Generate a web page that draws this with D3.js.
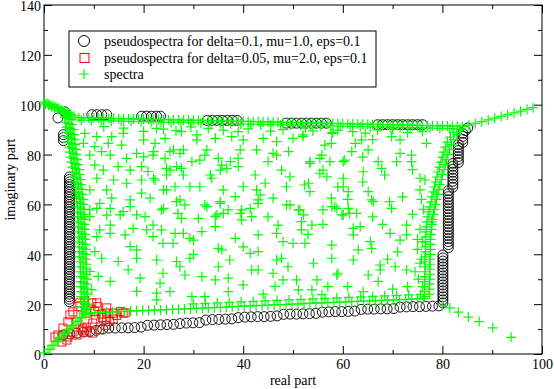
<!DOCTYPE html>
<html><head><meta charset="utf-8">
<script src="https://cdn.jsdelivr.net/npm/d3@7"></script>
<style>body{margin:0;background:#fff}svg{display:block}text{font-family:"Liberation Serif","DejaVu Serif",serif}</style>
</head><body><svg id="c" width="554" height="389"></svg>
<script>
// ---------- axis ticks ----------
const xMajor = [0, 20, 40, 60, 80, 100];
const xMinor = [10, 30, 50, 70, 90];
const yMajor = [0, 20, 40, 60, 80, 100, 120, 140];
const yMinor = [10, 30, 50, 70, 90, 110, 130];
const seriesNames = ["pseudospectra for delta=0.1, mu=1.0, eps=0.1", "pseudospectra for delta=0.05, mu=2.0, eps=0.1", "spectra"];

// ---------- series 1: circles ----------
const circlesTop = [[2.8,94.7],[4.2,97.1],[3.9,88],[3.9,86.8],[3.9,85.6],[9.6,96],[10.6,96],[11.6,96],[12.6,96],
[19.6,95.4],[20.6,95.4],[21.6,95.4],[22.6,95.4],[23.4,95.4],[32.8,93.7],[33.8,93.7],[34.8,93.7],[35.8,93.7],[36.8,93.7],[37.8,93.7],[38.8,93.7],
[48.7,92.6],[49.7,92.6],[50.7,92.6],[51.7,92.6],[52.7,92.6],[53.7,92.6],[54.7,92.6],[55.7,92.6],[56.7,92.6],
[67,92],[68,92],[69,92],[70,92],[71,92],[72,92],[73,92],[74,92],[75,92],[76,92],[85.1,90.7],[84.6,89.6]];
const circlesLeft = [[5.1,21],[5.1,22],[5.1,23],[5.1,24],[5.1,25],[5.1,26],[5.1,27],[5.1,28],[5.1,29],[5.1,30],[5.1,31],[5.1,32],[5.1,33],[5.1,34],[5.1,35],[5.1,36],[5.1,37],[5.1,38],[5.1,39],[5.1,40],[5.1,41],[5.1,42],[5.1,43],[5.1,44],[5.1,45],[5.1,46],[5.1,47],[5.1,48],[5.1,49],[5.1,50],[5.1,51],[5.1,52],[5.1,53],[5.1,54],[5.1,55],[5.1,56],[5.1,57],[5.1,58],[5.1,59],[5.1,60],[5.1,61],[5.1,62],[5.1,63],[5.1,64],[5.1,65],[5.1,66],[5.1,67],[5.1,68],[5.1,69],[5.1,70],[5.1,71]];
const circlesRight = [[84.1,88.5],[84.1,87.3],[84.1,86.1],[84.1,84.9],
[83.2,84],[83.2,82.8],[83.2,81.6],[83.2,80.4],[83.2,79.2],[83.2,78],[83.2,76.8],
[82.1,76.5],[82.1,75.3],[82.1,74.1],[82.1,72.9],[82.1,71.7],[82.1,70.5],[82.1,69.3],[82.1,68.1],[82.1,66.9],
[81.2,65.5],[81.2,64.3],[81.2,63.1],[81.2,61.9],[81.2,60.7],[81.2,59.5],[81.2,58.3],[81.2,57.1],[81.2,55.9],[81.2,54.7],[81.2,53.5],[81.2,52.3],[81.2,51.1],[81.2,49.9],[81.2,48.7],[81.2,47.5],[81.2,46.3],[81.2,45.1],[81.2,43.9],[81.2,42.7],
[80.1,39.7],[80.1,38.5],[80.1,37.3],[80.1,36.1],[80.1,34.9],[80.1,33.7],[80.1,32.5],[80.1,31.3],[80.1,30.1],[80.1,28.9],[80.1,27.7],[80.1,26.5],[80.1,25.3],[80.1,24.1],[80.1,22.9],[80.1,21.7],[80.1,20.5]];
const circlesBottom = [[3.8,7.6],[5.2,8],[6.6,8.4],[7.9,8.8],[9.2,9],[10.5,9.5],[11.8,10],[13,10.4],[14.3,10.4],[15.6,10.5],[16.9,10.5],[18.2,10.6],[19.5,10.8],
[20.8,11.5],[22.1,11.6],[23.4,11.7],[24.7,11.8],[26,11.9],[27.3,12.2],[28.6,12.4],[29.9,12.5],[31.2,12.6],[32.5,13.6],[33.8,13.8],[35.1,13.9],[36.4,14],[37.7,14.1],
[39,14.6],[40.3,14.8],[41.6,14.9],[42.9,15],[44.2,15],[45.5,15.1],[46.8,15.3],[48.1,15.9],[49.4,16],[50.7,16],[52,16.1],[53.3,16.2],[54.6,16.3],[55.9,16.8],[57.2,16.9],
[58.5,17],[59.8,17],[61.1,17.1],[62.4,17.2],[63.7,17.9],[65,18],[66.3,18],[67.6,18.1],[68.9,18.1],[70.2,18.2],[71.5,18.8],[72.8,18.9],[74.1,19],[75.4,19],[76.7,19.1],[78,19.2],[79.3,19.3]];

// ---------- series 2: squares ----------
const squares = [[2.2,6.8],[2.8,7.6],[3.6,4.8],[4.6,5.6],[3.8,10.4],[4.8,6.8],[4.8,12.9],[5.2,15.7],[5.8,16.9],[5.8,8.8],[6.6,7.6],[6.6,12.9],[6.8,19],[7.2,20.5],
[7.8,9.6],[7.8,10.4],[8.2,21.5],[8.6,8.8],[8.6,10.8],[8.6,16.4],[9.6,20.5],[9.8,8.4],[9.8,12.4],[10.6,20.5],[10.8,19],[11.2,9.8],[11.8,14.5],[12.4,11.5],
[12.6,13.7],[12.6,16.4],[12.6,18.5],[13.2,13],[13.9,16.4],[13.9,14],[14.6,15.5],[15.3,17],[15.9,16.4],[16.3,16.5],[10.4,14],[10.2,17],[9.4,18],[11.5,16]];

// ---------- series 3: spectra (pluses) ----------
const spectraDiag = [[0,101],[0.6,100.6],[1.2,100.1],[1.8,99.6],[2.4,99.1],[3,98.6],[3.6,98],[4.2,97.4],[4.8,96.8],[5.4,96.1],[6,95.5],
[0.3,100.2],[0.9,99.9],[1.5,99.3],[2.1,98.8],[2.7,98.3],[3.3,97.7],[3.9,97.1],[4.5,96.4],[5.1,95.8],
[0,0.5],[0.8,1.8],[1.6,3.4],[2.4,5],[3.2,6.6],[4,8.2],[4.8,9.8],[5.6,11.4],[6.4,13],[7.2,14.6],[8,16.2],
[1.2,1.9],[2,3.5],[2.8,5.1],[3.6,6.7],[4.4,8.3],[5.2,9.9],[6,11.5],[6.8,13.1],[7.6,14.7],[8.4,15.8]];
const spectraRise = [[84,91.2],[85.3,91.8],[86.6,92.5],[87.9,93.2],[89.2,93.9],[90.5,94.6],[91.8,95.3],[93.1,96],[94.4,96.7],[95.7,97.4],[97,98.1],[98.2,98.8]];
const spectraFall = [[80,19.5],[81.5,18.5],[83.2,16.8],[85.2,14.8],[87.4,13],[90.1,10.5],[93.8,6.7]];
const spectraTop = [[7,94.8],[8,94.7],[9,94.7],[10,94.7],[11,94.6],[12,94.6],[13,94.5],[14,94.5],[15,94.4],[16,94.4],[17,94.3],[18,94.3],[19,94.2],[20,94.2],[21,94.2],[22,94.1],[23,94.1],[24,94],[25,94],[26,93.9],[27,93.9],[28,93.8],[29,93.8],[30,93.8],[31,93.7],[32,93.7],[33,93.6],[34,93.6],[35,93.5],[36,93.5],[37,93.4],[38,93.4],[39,93.3],[40,93.3],[41,93.3],[42,93.2],[43,93.2],[44,93.1],[45,93.1],[46,93],[47,93],[48,92.9],[49,92.9],[50,92.9],[51,92.8],[52,92.8],[53,92.7],[54,92.7],[55,92.6],[56,92.6],[57,92.5],[58,92.5],[59,92.4],[60,92.4],[61,92.4],[62,92.3],[63,92.3],[64,92.2],[65,92.2],[66,92.1],[67,92.1],[68,92],[69,92],[70,91.9],[71,91.9],[72,91.9],[73,91.8],[74,91.8],[75,91.7],[76,91.7],[77,91.6],[78,91.6],[79,91.5],[80,91.5],[81,91.5],[82,91.4],[83,91.4],
[7.5,93.8],[9.5,93.7],[11.5,93.6],[13.5,93.5],[15.5,93.4],[17.5,93.3],[19.5,93.2],[21.5,93.1],[23.5,93],[25.5,92.9],[27.5,92.9],[29.5,92.8],[31.5,92.7],[33.5,92.6],[35.5,92.5],[37.5,92.4],[39.5,92.3],[41.5,92.2],[43.5,92.1],[45.5,92],[47.5,91.9],[49.5,91.9],[51.5,91.8],[53.5,91.7],[55.5,91.6],[57.5,91.5],[59.5,91.4],[61.5,91.3],[63.5,91.2],[65.5,91.1],[67.5,91.1],[69.5,91],[71.5,90.9],[73.5,90.8],[75.5,90.7],[77.5,90.6],[79.5,90.5],[81.5,90.4],[83.5,90.3]];
const spectraBottom = [[9,16.5],[10.2,16.6],[11.4,16.7],[12.6,16.8],[13.8,16.9],[15,17],[16.2,17.1],[17.4,17.2],[18.6,17.3],[19.8,17.4],[21,17.5],[22.2,17.6],[23.4,17.7],[24.6,17.8],[25.8,17.9],[27,18],[28.2,18.1],[29.4,18.2],[30.6,18.3],[31.8,18.4],[33,18.5],[34.2,18.6],[35.4,18.7],[36.6,18.8],[37.8,19],[39,19.1],[40.2,19.2],[41.4,19.3],[42.6,19.4],[43.8,19.5],[45,19.6],[46.2,19.7],[47.4,19.8],[48.6,19.9],[49.8,20],[51,20.1],[52.2,20.2],[53.4,20.3],[54.6,20.4],[55.8,20.5],[57,20.6],[58.2,20.7],[59.4,20.8],[60.6,20.9],[61.8,21],[63,21.1],[64.2,21.2],[65.4,21.3],[66.6,21.4],[67.8,21.5],[69,21.6],[70.2,21.7],[71.4,21.8],[72.6,21.9],[73.8,22],[75,22.1],[76.2,22.2],
[30,20.1],[32.4,20.3],[34.8,20.5],[37.2,20.7],[39.6,20.9],[42,21.1],[44.4,21.3],[46.8,21.5],[49.2,21.7],[51.6,21.9],[54,22.1],[56.4,22.3],[58.8,22.5],[61.2,22.7],[63.6,22.9],[66,23.1],[68.4,23.3],[70.8,23.5],[73.2,23.7],[75.6,23.9]];
const spectraLeft = [[4.2,95],[5.5,94],[4.3,93],[5.6,92],[4.5,91],[5.8,90],[4.7,89],[6,88],[4.8,87],[6.1,86],[4.9,85],[6.2,84],[5.1,83],[6.4,82],[5.2,81],[6.5,80],[5.4,79],[6.6,78],[5.5,77],[6.8,76],[5.7,75],[7,74],[5.8,73],[7.1,72],[6,71],[7.3,70],[6.1,69],[7.4,68],[6.3,67],[7.6,66],[6.4,65],[7.7,64],[6.5,63],[7.8,62],[6.6,61],[7.9,60],[6.7,59],[8,58],[6.8,57],[8,56],[6.8,55],[8.1,54],[6.9,53],[8.1,52],[6.9,51],[8.2,50],[7,49],[8.2,48],[7,47],[8.3,46],[7.1,45],[8.3,44],[7.1,43],[8.4,42],[7.2,41],[8.4,40],[7.2,39],[8.4,38],[7.3,37],[8.5,36],[7.3,35],[8.5,34],[7.3,33],[8.5,32],[7.4,31],[8.6,30],[7.4,29],[8.6,28],[7.4,27],[8.6,26],[7.5,25],[8.7,24],[7.5,23],[8.7,22],[7.5,21],[8.7,20],[7.6,19],[8.8,18],[7.6,17],
[4.9,94.5],[5,92.5],[5.2,90.5],[5.3,88.5],[5.5,86.5],[5.6,84.5],[5.7,82.5],[5.9,80.5],[6,78.5],[6.2,76.5],[6.3,74.5],[6.5,72.5],[6.6,70.5],[6.8,68.5],[6.9,66.5],[7,64.5],[7.2,62.5],[7.3,60.5],[7.3,58.5],[7.4,56.5],[7.5,54.5],[7.5,52.5],[7.6,50.5],[7.6,48.5],[7.7,46.5],[7.7,44.5],[7.8,42.5],[7.8,40.5],[7.8,38.5],[7.9,36.5],[7.9,34.5],[7.9,32.5],[8,30.5],[8,28.5],[8,26.5],[8.1,24.5],[8.1,22.5],[8.1,20.5],[8.2,18.5]];
const spectraRight = [[76.4,23],[77.4,24],[76.4,25],[77.4,26],[76.4,27],[77.4,28],[76.4,29],[77.5,30],[76.5,31],[77.5,32],[76.5,33],[77.5,34],[76.5,35],[77.5,36],[76.5,37],[77.5,38],[76.5,39],[77.6,40],[76.6,41],[77.6,42],[76.6,43],[77.6,44],[76.6,45],[77.6,46],[76.6,47],[77.7,48],[76.7,49],[77.8,50],[76.8,51],[77.9,52],[76.9,53],[78,54],[77.1,55],[78.2,56],[77.3,57],[78.4,58],[77.5,59],[78.6,60],[77.7,61],[78.8,62],[77.9,63],[79.1,64],[78.2,65],[79.3,66],[78.4,67],[79.5,68],[78.6,69],[79.8,70],[78.9,71],[80,72],[79.1,73],[80.3,74],[79.4,75],[80.6,76],[79.7,77],[80.8,78],[80,79],[81.1,80],[80.3,81],[81.4,82],[80.6,83],[81.8,84],[81,85],[82.3,86],[81.6,87],[82.9,88],[82.3,89],[83.6,90],
[75.2,30],[75.8,38],[75,42],[76,27],[75.5,50],[76,45],[77.8,53],[78.8,64],[76.2,58],[75.8,62]];
const spectraInterior = [[22.6,90.5],[24.3,86.5],[22.3,84.5],[27.6,89.2],[30.7,87.9],[30.7,85.9],[34.4,86.5],[37.7,87.2],[40,85.9],[44,86.5],[46.7,85.2],[50,86.5],[52,87.9],[56.4,83.8],[57.7,84.5],
[21.9,79.8],[25.3,81.2],[27.3,80.5],[28,81.9],[32.7,81.9],[32.3,79.8],[39.4,81.9],[42.7,81.9],[46,80.5],[46.7,79.8],[49.1,81.2],[24.3,78.5],[29.7,77.2],[31.3,77.8],[35,78.5],[35.7,75.8],[37.4,77.2],[39,78.5],[45,77.2],[53.4,76.5],[55.4,78.5],[57.4,77.2],[60.4,77.8],
[25.3,73.8],[27.6,74.5],[28,71.8],[33.4,71.8],[35.4,73.8],[36.7,74.5],[39,75.2],[42.4,71.8],[47.7,73.8],[49.4,71.1],[56,73.8],[56.8,71.1],[60.1,70.5],[22.3,69.8],[24.6,65.8],[26.3,67.1],[29.3,67.1],[31.3,67.1],[33.7,70.5],[36,65.8],[40,67.1],[42.7,65.8],[44.4,68.5],[48.7,67.1],[52.3,67.8],[53.4,65.1],
[27.3,61.8],[28.3,59.8],[32.3,59.8],[35.4,61.1],[38.4,63.1],[41.4,58.4],[43,61.8],[43.4,63.8],[46,62.5],[49.4,59.8],[51.4,57.8],[56,57.8],[57.7,62.5],[23.6,57.8],[34.7,55.8],[37,57.8],[39.7,57.8],[60.1,55.8],
[24,90.2],[26.5,89.6],[33,90.5],[36,89.8],[41,90.3],[45.5,89.4],[48,90],[54,89.5],[59,89.8],[62,89.2],[64.5,88.6],[73,88.8],[76,89.3],[20,89.3],[16,90.6],[12,91.2],[29.5,91.1],[39,89.2],[52.5,90.8],[58,88.9],[67,89.9],[70,90.2],
[26.9,56.4],[27.6,54.4],[31,54.4],[32.7,59.1],[34.4,55.1],[35.4,60.4],[36,56.4],[39.4,56.4],[39.7,53.8],[41.7,55.1],[43,60.4],[47,51.7],[48.7,59.8],[51.1,57.8],[51.7,53.1],[51.7,49.8],[53.8,51.7],[57.8,59.1],[59.8,55.8],
[21.9,51.7],[23.6,49.8],[28,48.4],[30,45.7],[31.7,49.1],[34.4,51.1],[21.9,47.1],[23.9,44.4],[25.9,44.4],[29.3,46.4],[35,42.4],[35.7,41.8],[41.4,40.4],[43,41.1],[38.4,46.4],[43,47.8],[46.7,48.4],[48,45.1],[50,44.4],[52.4,44.4],[57.8,43.7],
[22.6,37.7],[26.6,37.1],[27.3,35],[29.3,38.4],[37.3,37.7],[46.7,37.7],[47.7,38.4],[54.1,36.4],[57.8,38.4],[23.9,32.4],[28.3,31.7],[31.7,31],[34.4,29.7],[37,30.4],[41.7,33.7],[43,33.7],[46,32.4],[48,29.7],[50.7,29.7],[54.8,29.7],[59,32.4],
[23.3,28.4],[25.3,25],[29.7,23],[32.3,23],[40,27.7],[46.4,27.1],[51.1,25.7],[53.8,25.7],[55.8,23.8],[22.6,21.7],
[8.2,88.5],[10.6,87.2],[13.6,87.2],[7.9,84.5],[10.2,83.2],[12.9,84.5],[15.9,88.5],[15.6,83.8],[20,85.9],[9.2,79.8],[11.6,81.2],[13.3,79.8],[16.6,78.5],[18.6,80.5],[20,79.1],[22,81.2],[26,81.9],
[10.2,75.8],[11.9,73.8],[14.9,75.2],[17.3,73.8],[19.6,75.2],[20.9,73.2],[24.6,74.5],[26.6,75.2],[10.6,70.5],[14,69.8],[16.6,68.5],[19.6,69.8],[22,70.5],[24.6,71.8],
[9.2,65.8],[12.6,65.8],[13.6,62.5],[17.3,61.8],[19.6,64.5],[21.3,62.5],[24,65.8],[10.6,58.4],[13.3,58.4],[17.3,59.1],[24,58.4],[26.6,61.1],[9.2,55.1],[15.3,55.8],
[9.2,57.8],[11.2,60.4],[12.6,55.7],[13.3,51.7],[15.9,57.1],[18.6,55.8],[20.3,55.1],[11.2,49.8],[10.6,47.1],[13.3,48.4],[16.3,47.8],[17.9,50.4],[20.6,49.8],[26.3,48.4],
[10.2,41.1],[14.9,37.1],[11.6,38.4],[17.3,43.1],[18.6,41.8],[18.6,38.4],[9.2,33.1],[10.9,31.1],[13.3,29.1],[16.9,33.8],[19.3,30.4],[18.6,25.1],[22.6,24.4],[9.6,25.8],
[52,87.2],[57.8,88.5],[55.8,79.8],[53.4,77.2],[55.4,72.5],[53.1,68.5],[52.1,55.8],[58.8,58.4],[62.5,84.5],[63.8,85.9],[65.1,81.9],[61.8,81.2],[60.1,77.2],[64.1,73.1],[60.1,67.1],[61.1,65.1],[65.1,65.1],[65.8,61.8],[69.4,61.1],[69.8,58.4],[61.4,56.4],
[67.8,74.5],[68.4,71.8],[67.1,77.2],[70.8,77.2],[71.5,80.5],[73.8,79.8],[73.8,77.2],[69.8,87.2],[71.5,85.9],[76.8,84.5],[75.5,70.5],[76.5,69.8],[75.5,65.8],
[58.4,59.1],[61.1,58.4],[62.8,56.4],[66.1,61.1],[72.8,51.7],[72.8,47.8],[71.5,45.7],[69.5,48.4],[62.1,50.4],[63.5,51.1],[62.1,47.8],[65.5,45.1],[63.1,41.8],[65.8,42.4],[62.1,37.7],[67.5,35.7],[67.5,33.7],[70.5,35],[72.8,33.7],[58.8,31.7],[65.1,31.7],[67.1,29.1],[74.5,33],[75.5,36.4],[64.1,25],
[68,52],[74,56],[71,41],[75,46],[66,55],[69,38],[73,27],[70,26],[61,27],[57,27],[44,24],[37,25],[35,35],[40,43],[45,55],[49,35],[30,40],[53,48],[56,52],[61,62],[64,69],[66,86],[72,63],[74,74],[64,79],[59,67]];

// ---------- drawing ----------
const FONT = '"Liberation Serif","DejaVu Serif",serif';
const svg = d3.select('#c');
const x = d3.scaleLinear().domain([0, 100]).range([44, 542]);
const y = d3.scaleLinear().domain([0, 140]).range([354, 5]);

function styleAxis(g) {
  g.attr('font-family', FONT);
  g.select('.domain').remove();
  g.selectAll('.tick line').attr('stroke', '#000').attr('stroke-width', 1);
  g.selectAll('.tick text').attr('fill', '#000').style('font-size', '14px').style('font-family', FONT);
}
svg.append('g').attr('transform', 'translate(0,354)').call(d3.axisBottom(x).tickValues(xMajor).tickSize(-8).tickPadding(5).tickFormat(d3.format('d'))).call(styleAxis);
svg.append('g').attr('transform', 'translate(0,354)').call(d3.axisBottom(x).tickValues(xMinor).tickSize(-4).tickFormat('')).call(styleAxis);
svg.append('g').attr('transform', 'translate(0,5)').call(d3.axisTop(x).tickValues(xMajor).tickSize(-8).tickFormat('')).call(styleAxis);
svg.append('g').attr('transform', 'translate(0,5)').call(d3.axisTop(x).tickValues(xMinor).tickSize(-4).tickFormat('')).call(styleAxis);
const gl = svg.append('g').attr('transform', 'translate(44,0)').call(d3.axisLeft(y).tickValues(yMajor).tickSize(-8).tickPadding(3).tickFormat(d3.format('d'))).call(styleAxis);
gl.selectAll('.tick text').attr('dy', '0.42em');
svg.append('g').attr('transform', 'translate(44,0)').call(d3.axisLeft(y).tickValues(yMinor).tickSize(-4).tickFormat('')).call(styleAxis);
svg.append('g').attr('transform', 'translate(542,0)').call(d3.axisRight(y).tickValues(yMajor).tickSize(-8).tickFormat('')).call(styleAxis);
svg.append('g').attr('transform', 'translate(542,0)').call(d3.axisRight(y).tickValues(yMinor).tickSize(-4).tickFormat('')).call(styleAxis);

svg.append('rect').attr('x', x(0)).attr('y', y(140)).attr('width', x(100) - x(0)).attr('height', y(0) - y(140))
  .attr('fill', 'none').attr('stroke', '#000').attr('stroke-width', 1);

const circles = circlesTop.concat(circlesLeft, circlesRight, circlesBottom);
const spectra = spectraDiag.concat(spectraRise, spectraFall, spectraTop, spectraBottom, spectraLeft, spectraRight, spectraInterior);

svg.append('g').selectAll('circle').data(circles).join('circle')
  .attr('cx', d => x(d[0])).attr('cy', d => y(d[1])).attr('r', 5)
  .attr('fill', 'none').attr('stroke', '#000').attr('stroke-width', 0.9);
svg.append('g').selectAll('rect').data(squares).join('rect')
  .attr('x', d => x(d[0]) - 4).attr('y', d => y(d[1]) - 4).attr('width', 8).attr('height', 8)
  .attr('fill', 'none').attr('stroke', '#ff0000').attr('stroke-width', 0.9);
const plusPath = 'M-5,0H5M0,-5V5';
svg.append('g').selectAll('path').data(spectra).join('path')
  .attr('transform', d => `translate(${x(d[0])},${y(d[1])})`).attr('d', plusPath)
  .attr('fill', 'none').attr('stroke', '#00ff00').attr('stroke-width', 1.2);

// legend
const lg = svg.append('g');
lg.append('rect').attr('x', 69).attr('y', 31).attr('width', 307).attr('height', 56)
  .attr('fill', '#fff').attr('stroke', '#000').attr('stroke-width', 1);
const ly = [41, 58, 74];
lg.append('circle').attr('cx', 84).attr('cy', ly[0]).attr('r', 5.5).attr('fill', 'none').attr('stroke', '#000').attr('stroke-width', 1);
lg.append('rect').attr('x', 80).attr('y', ly[1] - 4.5).attr('width', 9).attr('height', 9).attr('fill', 'none').attr('stroke', '#ff0000').attr('stroke-width', 1);
lg.append('path').attr('transform', `translate(84,${ly[2]})`).attr('d', plusPath).attr('fill', 'none').attr('stroke', '#00ff00').attr('stroke-width', 1.2);
lg.selectAll('text').data(seriesNames).join('text')
  .attr('x', 104).attr('y', (d, i) => ly[i]).attr('dy', '0.35em')
  .style('font-size', '14px').style('font-family', FONT).attr('fill', '#000').text(d => d);

// axis titles
svg.append('text').attr('x', (x(0) + x(100)) / 2).attr('y', 385).attr('text-anchor', 'middle')
  .style('font-size', '14px').style('font-family', FONT).attr('fill', '#000').text('real part');
svg.append('text').attr('transform', `translate(15,${(y(0) + y(140)) / 2}) rotate(-90)`).attr('text-anchor', 'middle')
  .style('font-size', '14px').style('font-family', FONT).attr('fill', '#000').text('imaginary part');
</script></body></html>
